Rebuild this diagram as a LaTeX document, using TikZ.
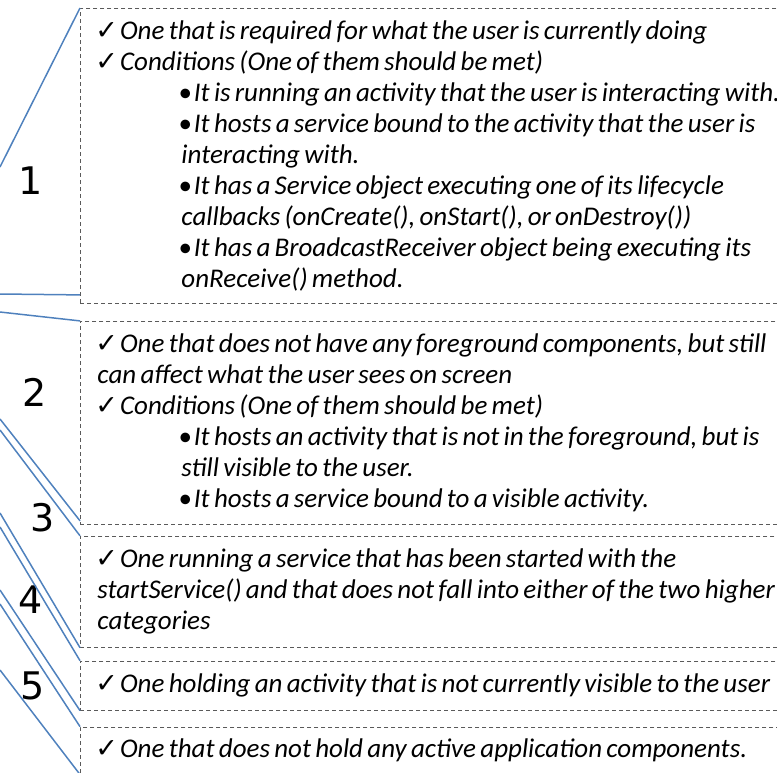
\documentclass[tikz,border=0pt]{standalone}
\usepackage{fontspec}
\setmainfont{Carlito}[WordSpace=0.7]
\newfontfamily\dejavu{DejaVu Sans}
\usetikzlibrary{positioning}
\definecolor{lineblue}{HTML}{4F81BD}
\definecolor{dashgray}{HTML}{5A5A5A}
\newcommand{\chk}{\hspace*{-2pt}{\dejavu\upshape\fontsize{27}{27}\selectfont ✓}\hspace{2pt}}
\newcommand{\ind}{\hspace*{84pt}}
\newcommand{\bul}{\hspace*{-3pt}•\hspace{2pt}}

\begin{document}
\begin{tikzpicture}[
    x=1pt, y=-1pt,
    box/.style={draw=dashgray, dash pattern=on 4pt off 3pt, line width=0.9pt,
                minimum width=834pt, text width=800pt, inner xsep=17pt, inner ysep=0pt,
                align=flush left, font=\fontsize{27}{30.9}\selectfont\itshape},
    num/.style={font=\dejavu\fontsize{38}{38}\selectfont},
    link/.style={lineblue, line width=1.5pt}
]
    \useasboundingbox (0,0) rectangle (777,772);
    \clip (0,0) rectangle (777,772);

    \node[box, minimum height=295pt, anchor=north west] (box1) at (80,8)
        {\chk One that is required for what the user is currently doing\\
         \chk Conditions (One of them should be met)\\
         \ind\bul It is running an activity that the user is interacting with.\\
         \ind\bul It hosts a service bound to the activity that the user is\\
         \ind interacting with.\\
         \ind\bul It has a Service object executing one of its lifecycle\\
         \ind callbacks (onCreate(), onStart(), or onDestroy())\\
         \ind\bul It has a BroadcastReceiver object being executing its\\
         \ind onReceive() method.};
    \node[box, minimum height=203pt, below=17pt of box1] (box2)
        {\chk One that does not have any foreground components, but still\\
         can affect what the user sees on screen\\
         \chk Conditions (One of them should be met)\\
         \ind\bul It hosts an activity that is not in the foreground, but is\\
         \ind still visible to the user.\\
         \ind\bul It hosts a service bound to a visible activity.};
    \node[box, minimum height=111pt, below=11pt of box2] (box3)
        {\chk One running a service that has been started with the\\
         startService() and that does not fall into either of the two higher\\
         categories};
    \node[box, minimum height=49pt, below=13pt of box3] (box4)
        {\chk One holding an activity that is not currently visible to the user};
    \node[box, minimum height=47pt, below=16pt of box4] (box5)
        {\chk One that does not hold any active application components.};

    % level numbers
    \node[num] (n1) at (31,181) {1};
    \node[num] (n2) at (35,392) {2};
    \node[num] (n3) at (43,518) {3};
    \node[num] (n4) at (31,600) {4};
    \node[num] (n5) at (33,686) {5};

    % lines coming in from the left
    \coordinate (e1) at (0,167);
    \coordinate (e2) at (0,294);
    \coordinate (e3) at (0,312);
    \coordinate (e4) at (0,419);
    \coordinate (e5) at (0,430);
    \coordinate (e6) at (0,513);
    \coordinate (e7) at (0,527);
    \coordinate (e8) at (0,590);
    \coordinate (e9) at (0,604);
    \coordinate (e10) at (0,670);

    \draw[link] (e1)  -- (box1.north west);
    \draw[link] (e2)  -- ([yshift=9pt]box1.south west);
    \draw[link] (e3)  -- (box2.north west);
    \draw[link] (e4)  -- ([yshift=4pt]box2.south west);
    \draw[link] (e5)  -- (box3.north west);
    \draw[link] (e6)  -- (box3.south west);
    \draw[link] (e7)  -- (box4.north west);
    \draw[link] (e8)  -- (box4.south west);
    \draw[link] (e9)  -- (box5.north west);
    \draw[link] (e10) -- (box5.south west);
\end{tikzpicture}
\end{document}
